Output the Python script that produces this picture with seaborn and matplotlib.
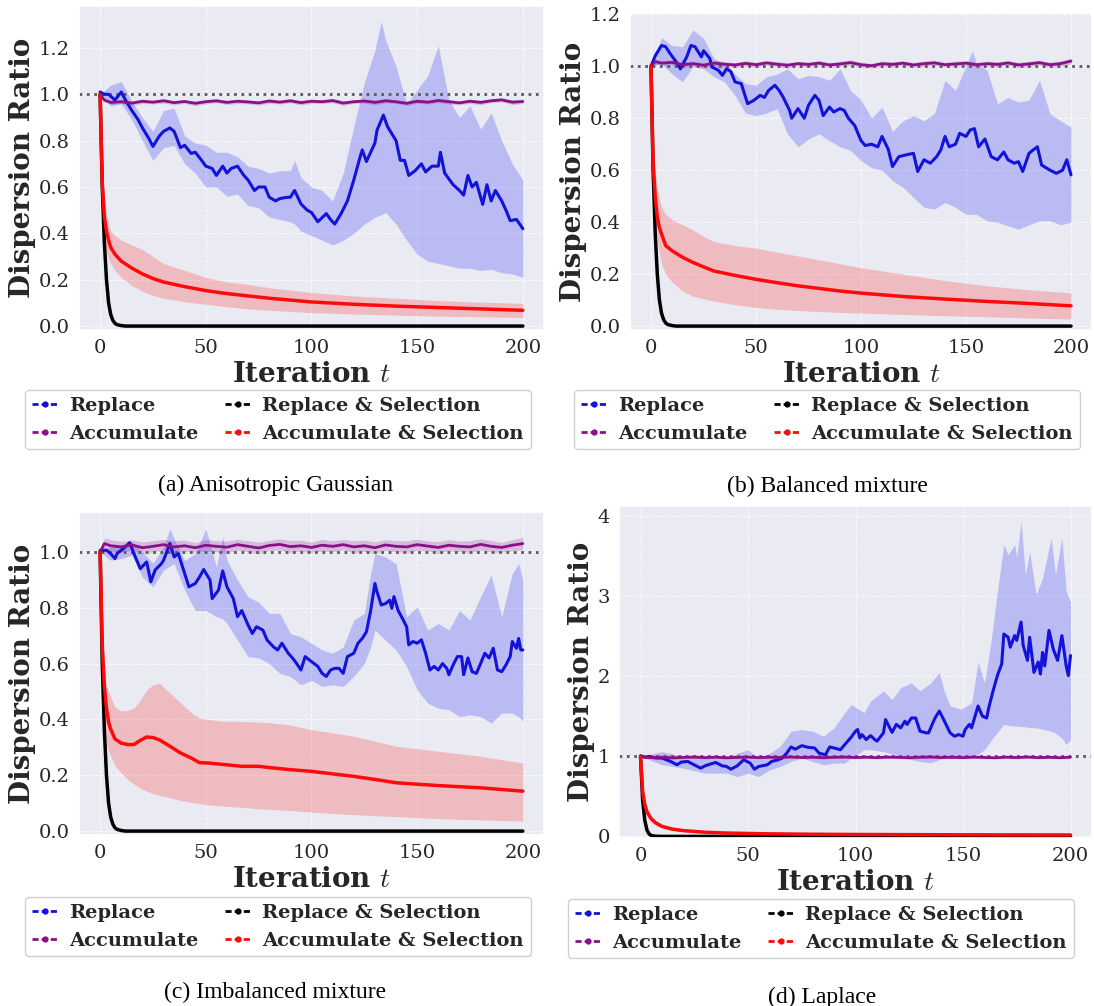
import numpy as np
import matplotlib
matplotlib.use("Agg")
import matplotlib.pyplot as plt
import seaborn as sns
from matplotlib.lines import Line2D

# ---------------- data ----------------
# common iteration grid for the "Accumulate" series
ACC_T = [0, 2, 5, 10, 15, 20, 25, 30, 35, 40, 45, 50, 55, 60, 65, 70, 75, 80, 85, 90, 95,
         100, 105, 110, 115, 120, 125, 130, 135, 140, 145, 150, 155, 160, 165, 170, 175, 180,
         185, 190, 195, 200]

# ---- (a) Anisotropic Gaussian ----
A_rep_t = [0, 2, 4, 7, 10, 12, 15, 18, 20, 23, 25, 28, 30, 33, 35, 38, 40, 43, 45, 48, 50, 53, 55,
           58, 60, 62, 65, 68, 70, 73, 75, 78, 80, 83, 85, 88, 90, 92, 95, 98, 100, 103, 107, 109,
           111, 114, 117, 120, 123, 124, 126, 130, 131, 134, 136, 138, 140, 142, 144, 146, 149,
           152, 154, 157, 160, 161, 163, 167, 170, 172, 174, 176, 178, 181, 183, 185, 187, 190,
           192, 194, 197, 200]
A_rep_v = [1.01, 1.00, 1.00, 0.975, 1.01, 0.975, 0.93, 0.89, 0.855, 0.81, 0.775, 0.82, 0.84, 0.855,
           0.84, 0.77, 0.78, 0.745, 0.75, 0.715, 0.69, 0.68, 0.65, 0.69, 0.66, 0.68, 0.69, 0.65,
           0.63, 0.585, 0.60, 0.60, 0.556, 0.54, 0.55, 0.555, 0.556, 0.585, 0.527, 0.50, 0.49, 0.45,
           0.485, 0.46, 0.44, 0.485, 0.54, 0.63, 0.73, 0.76, 0.71, 0.79, 0.845, 0.91, 0.86, 0.83,
           0.80, 0.715, 0.715, 0.65, 0.67, 0.70, 0.665, 0.69, 0.69, 0.75, 0.66, 0.61, 0.585, 0.565,
           0.65, 0.60, 0.62, 0.525, 0.61, 0.54, 0.585, 0.54, 0.50, 0.455, 0.46, 0.42]
A_band_t = [0, 5, 10, 15, 20, 25, 30, 35, 40, 45, 50, 55, 60, 65, 70, 75, 80, 85, 90, 92, 95, 100,
            105, 110, 115, 120, 125, 130, 133, 135, 140, 145, 150, 155, 160, 165, 170, 175, 180,
            185, 190, 195, 200]
A_band_hi = [1.0, 1.04, 1.055, 0.97, 0.90, 0.84, 0.93, 0.94, 0.82, 0.79, 0.78, 0.75, 0.75, 0.73,
             0.69, 0.68, 0.66, 0.67, 0.67, 0.715, 0.64, 0.60, 0.585, 0.54, 0.66, 0.86, 1.05, 1.19,
             1.315, 1.235, 1.12, 0.96, 1.02, 1.08, 1.21, 0.975, 0.90, 0.95, 0.85, 0.92, 0.80,
             0.70, 0.63]
A_band_lo = [1.0, 0.95, 0.96, 0.89, 0.80, 0.715, 0.77, 0.78, 0.70, 0.66, 0.60, 0.60, 0.56, 0.57,
             0.52, 0.51, 0.47, 0.46, 0.45, 0.44, 0.41, 0.39, 0.37, 0.35, 0.37, 0.40, 0.44, 0.47,
             0.48, 0.49, 0.44, 0.37, 0.31, 0.28, 0.27, 0.26, 0.25, 0.25, 0.24, 0.245, 0.23,
             0.225, 0.21]
A_acc_v = [1.0, 0.975, 0.965, 0.968, 0.962, 0.97, 0.966, 0.972, 0.964, 0.969, 0.961, 0.968,
           0.972, 0.965, 0.97, 0.967, 0.963, 0.971, 0.966, 0.972, 0.964, 0.97, 0.968, 0.973,
           0.962, 0.968, 0.971, 0.965, 0.972, 0.968, 0.961, 0.97, 0.966, 0.973, 0.968, 0.963,
           0.97, 0.965, 0.972, 0.976, 0.966, 0.969]
A_acc_sd = [0.0, 0.008, 0.009, 0.008, 0.01, 0.009, 0.008, 0.01, 0.009, 0.008, 0.01, 0.009,
            0.008, 0.009, 0.01, 0.008, 0.009, 0.01, 0.008, 0.009, 0.01, 0.009, 0.008, 0.009,
            0.01, 0.008, 0.009, 0.01, 0.009, 0.008, 0.01, 0.009, 0.008, 0.009, 0.01, 0.008,
            0.009, 0.01, 0.008, 0.009, 0.01, 0.009]
A_rsel_t = [0, 1, 2, 3, 4, 5, 6, 7, 8, 10, 12, 200]
A_rsel_v = [1.0, 0.6, 0.36, 0.2, 0.1, 0.05, 0.025, 0.012, 0.006, 0.002, 0.0, 0.0]
A_asel_t = [0, 1, 2, 3, 4, 5, 7, 10, 15, 20, 25, 30, 40, 50, 60, 70, 80, 90, 100, 120, 140, 160, 180, 200]
A_asel_v = [1.0, 0.62, 0.47, 0.41, 0.37, 0.34, 0.31, 0.28, 0.25, 0.225, 0.205, 0.19, 0.17, 0.153,
            0.14, 0.13, 0.12, 0.112, 0.104, 0.094, 0.086, 0.08, 0.074, 0.068]
A_asel_hi = [1.0, 0.72, 0.56, 0.48, 0.44, 0.41, 0.39, 0.37, 0.35, 0.33, 0.30, 0.27, 0.24, 0.21,
             0.19, 0.18, 0.165, 0.155, 0.145, 0.13, 0.12, 0.11, 0.103, 0.098]
A_asel_lo = [1.0, 0.50, 0.37, 0.32, 0.29, 0.27, 0.24, 0.21, 0.175, 0.15, 0.132, 0.12, 0.105, 0.094,
             0.083, 0.074, 0.068, 0.063, 0.058, 0.052, 0.047, 0.043, 0.04, 0.037]

# ---- (b) Balanced mixture ----
B_rep_t = [0, 2, 5, 7, 9, 12, 14, 17, 19, 21, 24, 25, 28, 29, 32, 34, 36, 38, 40, 43, 44, 46, 49,
           52, 54, 56, 59, 61, 63, 66, 67, 70, 73, 75, 78, 80, 82, 85, 87, 90, 92, 94, 97, 100,
           102, 105, 108, 110, 113, 115, 118, 122, 125, 127, 130, 133, 136, 138, 140, 142, 145,
           147, 150, 152, 154, 156, 159, 162, 165, 168, 170, 173, 175, 177, 180, 182, 184, 186,
           190, 193, 196, 198, 200]
B_rep_v = [1.0, 1.04, 1.08, 1.075, 1.05, 1.017, 0.99, 1.036, 1.08, 1.075, 1.036, 1.06, 1.03, 0.997,
           0.985, 0.965, 0.99, 0.98, 0.94, 0.933, 0.907, 0.856, 0.869, 0.888, 0.88, 0.907, 0.927,
           0.907, 0.88, 0.83, 0.80, 0.837, 0.80, 0.85, 0.888, 0.869, 0.81, 0.843, 0.824, 0.837,
           0.83, 0.80, 0.772, 0.714, 0.695, 0.70, 0.69, 0.73, 0.68, 0.614, 0.652, 0.66, 0.665,
           0.595, 0.64, 0.627, 0.652, 0.678, 0.73, 0.69, 0.70, 0.742, 0.73, 0.755, 0.76, 0.69,
           0.72, 0.652, 0.64, 0.67, 0.64, 0.627, 0.633, 0.595, 0.665, 0.678, 0.69, 0.62, 0.60,
           0.588, 0.60, 0.64, 0.582]
B_band_t = [0, 5, 10, 15, 20, 25, 30, 35, 40, 45, 50, 55, 60, 65, 70, 75, 80, 85, 90, 95, 100, 105,
            110, 115, 120, 125, 130, 135, 140, 145, 150, 153, 155, 160, 165, 170, 175, 180, 185,
            190, 195, 200]
B_band_hi = [1.0, 1.11, 1.08, 1.075, 1.14, 1.107, 1.03, 1.01, 0.97, 0.933, 0.927, 0.96, 0.97,
             0.99, 0.952, 0.965, 0.96, 0.946, 0.99, 0.907, 0.87, 0.80, 0.843, 0.75, 0.79, 0.81,
             0.79, 0.82, 0.946, 0.907, 1.0, 1.06, 1.01, 0.985, 0.856, 0.88, 0.862, 0.87, 0.946,
             0.817, 0.79, 0.766]
B_band_lo = [1.0, 1.01, 0.97, 0.94, 1.0, 0.99, 0.96, 0.94, 0.888, 0.82, 0.81, 0.82, 0.837, 0.74,
             0.69, 0.72, 0.74, 0.714, 0.69, 0.676, 0.637, 0.61, 0.60, 0.56, 0.534, 0.495, 0.457,
             0.45, 0.476, 0.457, 0.43, 0.43, 0.43, 0.405, 0.40, 0.386, 0.373, 0.39, 0.405, 0.405,
             0.39, 0.40]
B_acc_v = [1.0, 1.018, 1.012, 1.015, 1.006, 1.01, 1.004, 1.012, 1.008, 1.005, 1.011, 1.006,
           1.013, 1.008, 1.004, 1.01, 1.007, 1.012, 1.005, 1.009, 1.014, 1.006, 1.002, 1.01,
           1.007, 1.012, 1.005, 1.01, 1.013, 1.006, 1.009, 1.012, 1.006, 1.01, 1.007, 1.013,
           1.005, 1.009, 1.014, 1.006, 1.01, 1.02]
B_acc_sd = [0.0, 0.009, 0.01, 0.009, 0.011, 0.01, 0.009, 0.011, 0.01, 0.009, 0.011, 0.01,
            0.009, 0.01, 0.011, 0.009, 0.01, 0.011, 0.009, 0.01, 0.011, 0.01, 0.009, 0.01,
            0.011, 0.009, 0.01, 0.011, 0.01, 0.009, 0.011, 0.01, 0.009, 0.01, 0.011, 0.009,
            0.01, 0.011, 0.009, 0.01, 0.011, 0.01]
B_rsel_t = [0, 1, 2, 3, 4, 5, 6, 7, 8, 10, 12, 200]
B_rsel_v = [1.0, 0.6, 0.36, 0.2, 0.1, 0.05, 0.025, 0.012, 0.006, 0.002, 0.0, 0.0]
B_asel_t = [0, 1, 2, 3, 4, 5, 7, 10, 15, 20, 25, 30, 40, 50, 60, 70, 80, 90, 100, 120, 140, 160, 180, 200]
B_asel_v = [1.0, 0.63, 0.50, 0.42, 0.38, 0.355, 0.31, 0.29, 0.265, 0.245, 0.228, 0.212, 0.195,
            0.18, 0.167, 0.155, 0.145, 0.135, 0.127, 0.114, 0.104, 0.095, 0.087, 0.078]
B_asel_hi = [1.0, 0.72, 0.60, 0.53, 0.49, 0.46, 0.43, 0.41, 0.39, 0.37, 0.345, 0.325, 0.31, 0.30,
             0.285, 0.27, 0.255, 0.24, 0.225, 0.20, 0.175, 0.155, 0.14, 0.128]
B_asel_lo = [1.0, 0.55, 0.42, 0.33, 0.28, 0.24, 0.20, 0.17, 0.135, 0.115, 0.105, 0.096, 0.082,
             0.072, 0.065, 0.06, 0.056, 0.053, 0.05, 0.045, 0.04, 0.036, 0.031, 0.027]

# ---- (c) Imbalanced mixture ----
C_rep_t = [0, 3, 5, 7, 8, 11, 14, 16, 19, 22, 24, 26, 29, 30, 33, 35, 37, 39, 42, 45, 47, 49, 52,
           53, 56, 58, 60, 63, 65, 67, 70, 72, 74, 77, 79, 82, 84, 86, 89, 91, 93, 95, 97, 100,
           103, 105, 107, 109, 111, 113, 115, 117, 120, 122, 124, 126, 128, 130, 131, 133, 135,
           137, 138, 139, 141, 143, 145, 146, 148, 150, 152, 154, 156, 158, 160, 162, 164, 165,
           167, 169, 171, 172, 174, 176, 178, 180, 182, 184, 186, 188, 190, 192, 194, 195, 197,
           198, 199, 200]
C_rep_v = [1.006, 1.006, 0.994, 0.976, 0.994, 1.012, 1.033, 0.994, 0.94, 0.964, 0.893, 0.935,
           0.958, 0.97, 1.03, 0.982, 0.994, 0.946, 0.875, 0.887, 0.91, 0.937, 0.899, 0.833, 0.863,
           0.932, 0.875, 0.833, 0.768, 0.79, 0.738, 0.708, 0.732, 0.72, 0.684, 0.66, 0.649, 0.673,
           0.637, 0.62, 0.60, 0.577, 0.625, 0.607, 0.59, 0.565, 0.554, 0.577, 0.583, 0.583, 0.565,
           0.625, 0.637, 0.673, 0.69, 0.714, 0.79, 0.887, 0.857, 0.81, 0.815, 0.827, 0.798, 0.84,
           0.79, 0.762, 0.732, 0.667, 0.679, 0.673, 0.685, 0.637, 0.577, 0.59, 0.577, 0.60, 0.583,
           0.56, 0.595, 0.625, 0.625, 0.56, 0.62, 0.571, 0.565, 0.60, 0.637, 0.62, 0.655, 0.577,
           0.571, 0.595, 0.625, 0.679, 0.655, 0.69, 0.649, 0.649]
C_band_t = [0, 5, 10, 15, 20, 25, 30, 33, 35, 40, 45, 50, 55, 58, 60, 65, 70, 75, 80, 85, 90, 95,
            100, 105, 110, 115, 120, 125, 128, 130, 135, 140, 145, 150, 155, 160, 165, 170, 175,
            180, 185, 190, 195, 198, 200]
C_band_hi = [1.0, 1.018, 1.024, 1.036, 1.0, 0.96, 1.018, 1.083, 1.048, 0.97, 0.994, 1.083, 0.946,
             1.054, 0.97, 0.899, 0.839, 0.82, 0.78, 0.78, 0.708, 0.696, 0.673, 0.649, 0.637, 0.66,
             0.756, 0.78, 0.923, 0.994, 0.982, 0.958, 0.768, 0.804, 0.72, 0.744, 0.72, 0.79,
             0.756, 0.839, 0.917, 0.768, 0.923, 0.958, 0.899]
C_band_lo = [1.0, 0.97, 0.976, 0.988, 0.91, 0.875, 0.935, 0.95, 0.958, 0.863, 0.79, 0.79, 0.768,
             0.76, 0.744, 0.684, 0.625, 0.62, 0.60, 0.565, 0.554, 0.524, 0.54, 0.518, 0.524,
             0.518, 0.554, 0.60, 0.66, 0.72, 0.684, 0.649, 0.59, 0.506, 0.458, 0.44, 0.435, 0.41,
             0.417, 0.41, 0.387, 0.423, 0.423, 0.41, 0.393]
C_acc_v = [1.0, 1.03, 1.022, 1.018, 1.025, 1.015, 1.02, 1.026, 1.018, 1.022, 1.015, 1.024,
           1.02, 1.017, 1.026, 1.02, 1.014, 1.023, 1.027, 1.019, 1.022, 1.016, 1.024, 1.02,
           1.026, 1.018, 1.022, 1.015, 1.025, 1.02, 1.018, 1.026, 1.021, 1.016, 1.024, 1.02,
           1.018, 1.027, 1.02, 1.016, 1.024, 1.03]
C_acc_sd = [0.0, 0.02, 0.022, 0.02, 0.018, 0.021, 0.02, 0.019, 0.022, 0.02, 0.018, 0.021,
            0.02, 0.022, 0.019, 0.02, 0.021, 0.018, 0.02, 0.022, 0.02, 0.019, 0.021, 0.02,
            0.018, 0.022, 0.02, 0.021, 0.019, 0.02, 0.022, 0.02, 0.018, 0.021, 0.02, 0.019,
            0.022, 0.02, 0.021, 0.018, 0.02, 0.022]
C_rsel_t = [0, 1, 2, 3, 4, 5, 6, 7, 8, 10, 12, 200]
C_rsel_v = [1.0, 0.6, 0.36, 0.2, 0.1, 0.05, 0.025, 0.012, 0.006, 0.002, 0.0, 0.0]
C_asel_t = [0, 1, 2, 3, 4, 5, 7, 10, 13, 16, 19, 22, 25, 28, 33, 38, 43, 47, 51, 59, 67, 75, 82,
            90, 100, 110, 120, 130, 140, 150, 160, 170, 180, 190, 200]
C_asel_v = [1.0, 0.67, 0.52, 0.44, 0.39, 0.365, 0.33, 0.315, 0.31, 0.31, 0.325, 0.337, 0.335,
            0.327, 0.304, 0.28, 0.262, 0.245, 0.244, 0.238, 0.232, 0.232, 0.226, 0.22, 0.214,
            0.205, 0.196, 0.185, 0.173, 0.168, 0.163, 0.159, 0.155, 0.149, 0.143]
C_asel_hi = [1.0, 0.75, 0.58, 0.52, 0.50, 0.48, 0.445, 0.43, 0.432, 0.44, 0.47, 0.505, 0.524,
             0.53, 0.495, 0.46, 0.425, 0.405, 0.40, 0.393, 0.393, 0.39, 0.387, 0.38, 0.363,
             0.352, 0.34, 0.322, 0.304, 0.295, 0.286, 0.277, 0.268, 0.256, 0.244]
C_asel_lo = [1.0, 0.55, 0.375, 0.31, 0.285, 0.268, 0.235, 0.208, 0.185, 0.168, 0.153, 0.143,
             0.135, 0.128, 0.12, 0.11, 0.103, 0.098, 0.094, 0.089, 0.085, 0.08, 0.077, 0.074,
             0.068, 0.063, 0.059, 0.055, 0.052, 0.048, 0.045, 0.042, 0.04, 0.038, 0.036]

# ---- (d) Laplace ----
D_rep_t = [0, 2, 4, 7, 10, 12, 14, 17, 19, 22, 24, 28, 30, 33, 35, 38, 40, 42, 45, 48, 51, 53, 55,
           59, 61, 64, 66, 68, 70, 72, 75, 78, 81, 83, 86, 88, 90, 93, 95, 98, 100, 101, 102, 103,
           105, 107, 109, 110, 113, 114, 117, 119, 121, 123, 124, 126, 128, 130, 133, 134, 136,
           137, 139, 141, 144, 146, 148, 150, 151, 153, 154, 157, 159, 161, 162, 164, 166, 168,
           169, 171, 172, 174, 175, 177, 178, 180, 181, 183, 185, 186, 187, 188, 190, 192, 194,
           196, 198, 199, 200]
D_rep_v = [1.008, 0.99, 1.0, 0.98, 0.98, 0.958, 0.937, 0.895, 0.929, 0.937, 0.908, 0.853, 0.882,
           0.908, 0.924, 0.882, 0.874, 0.84, 0.882, 0.958, 0.916, 0.84, 0.874, 0.895, 0.937, 0.958,
           0.98, 1.04, 1.118, 1.09, 1.134, 1.113, 1.105, 1.042, 1.02, 1.118, 1.105, 1.084, 1.147,
           1.24, 1.315, 1.336, 1.23, 1.273, 1.21, 1.26, 1.21, 1.19, 1.294, 1.46, 1.30, 1.40,
           1.357, 1.44, 1.40, 1.48, 1.48, 1.315, 1.294, 1.294, 1.42, 1.48, 1.567, 1.46, 1.294,
           1.252, 1.273, 1.252, 1.336, 1.40, 1.357, 1.63, 1.504, 1.48, 1.61, 1.82, 2.01, 2.155,
           2.53, 2.49, 2.365, 2.51, 2.45, 2.68, 2.386, 2.20, 2.49, 2.05, 2.18, 2.03, 2.30, 2.13,
           2.575, 2.34, 2.20, 2.51, 2.13, 2.01, 2.26]
D_band_t = [0, 10, 20, 30, 40, 45, 50, 55, 60, 65, 70, 75, 80, 85, 90, 95, 98, 104, 107, 113, 117,
            121, 126, 130, 135, 139, 141, 144, 149, 154, 157, 160, 163, 166, 169, 171, 174, 175,
            177, 179, 181, 184, 187, 191, 193, 196, 198, 200]
D_band_hi = [1.0, 1.06, 1.0, 0.98, 0.98, 1.04, 1.084, 0.98, 1.04, 1.126, 1.315, 1.336, 1.315,
             1.252, 1.357, 1.546, 1.65, 1.546, 1.69, 1.82, 1.71, 1.86, 1.92, 1.82, 1.92, 2.05,
             1.84, 1.63, 1.59, 1.67, 2.18, 1.92, 2.43, 3.06, 3.65, 3.52, 3.65, 3.48, 3.94, 3.27,
             3.56, 3.02, 3.23, 3.73, 3.27, 3.73, 3.06, 2.93]
D_band_lo = [1.0, 0.895, 0.853, 0.79, 0.79, 0.748, 0.79, 0.748, 0.83, 0.874, 0.937, 0.98, 0.937,
             0.895, 0.916, 0.916, 0.98, 1.084, 1.084, 1.06, 1.03, 1.0, 0.96, 0.937, 0.92, 0.96,
             0.98, 0.97, 0.98, 1.0, 1.03, 1.084, 1.2, 1.3, 1.40, 1.39, 1.38, 1.378, 1.375, 1.37,
             1.36, 1.357, 1.34, 1.315, 1.29, 1.23, 1.147, 1.21]
D_acc_v = [1.0, 0.99, 0.985, 0.99, 0.982, 0.988, 0.992, 0.985, 0.99, 0.983, 0.988, 0.991,
           0.985, 0.99, 0.987, 0.993, 0.986, 0.99, 0.984, 0.989, 0.992, 0.986, 0.99, 0.985,
           0.991, 0.988, 0.984, 0.99, 0.993, 0.986, 0.99, 0.985, 0.991, 0.987, 0.983, 0.99,
           0.986, 0.992, 0.985, 0.989, 0.984, 0.99]
D_acc_sd = [0.0, 0.015, 0.017, 0.015, 0.018, 0.016, 0.015, 0.017, 0.016, 0.015, 0.018, 0.016,
            0.015, 0.017, 0.016, 0.018, 0.015, 0.016, 0.017, 0.015, 0.018, 0.016, 0.015, 0.017,
            0.016, 0.015, 0.018, 0.016, 0.017, 0.015, 0.016, 0.018, 0.015, 0.017, 0.016, 0.015,
            0.018, 0.016, 0.017, 0.015, 0.016, 0.017]
D_rsel_t = [0, 1, 2, 3, 4, 5, 6, 8, 10, 200]
D_rsel_v = [1.0, 0.45, 0.2, 0.08, 0.03, 0.012, 0.005, 0.001, 0.0, 0.0]
D_asel_t = [0, 1, 2, 3, 4, 5, 7, 10, 15, 20, 30, 40, 60, 80, 100, 150, 200]
D_asel_v = [1.0, 0.56, 0.40, 0.31, 0.26, 0.22, 0.17, 0.125, 0.09, 0.072, 0.052, 0.042, 0.032,
            0.027, 0.024, 0.02, 0.018]
D_asel_hi = [1.0, 0.62, 0.45, 0.35, 0.30, 0.255, 0.20, 0.15, 0.108, 0.087, 0.064, 0.052, 0.04,
             0.034, 0.03, 0.025, 0.023]
D_asel_lo = [1.0, 0.50, 0.35, 0.27, 0.22, 0.185, 0.14, 0.10, 0.072, 0.057, 0.04, 0.032, 0.024,
             0.02, 0.018, 0.015, 0.013]

SERIES_LABELS = ["Replace", "Accumulate", "Replace & Selection", "Accumulate & Selection"]
CAPTIONS = ["(a) Anisotropic Gaussian", "(b) Balanced mixture",
            "(c) Imbalanced mixture", "(d) Laplace"]

# ---------------- style ----------------
sns.set_theme(style="darkgrid", font="DejaVu Serif")
plt.rcParams["font.family"] = ["DejaVu Serif"]
plt.rcParams["mathtext.fontset"] = "cm"

C_BLUE = "#1212D8"
C_PURPLE = "#8A108A"
C_BLACK = "black"
C_RED = "#FF0A0A"

W, H = 1094, 1006
fig = plt.figure(figsize=(W / 100, H / 100), dpi=100)


def frac_rect(x0, y0, x1, y1):
    return [x0 / W, 1 - y1 / H, (x1 - x0) / W, (y1 - y0) / H]


def safe(*arrs):
    n = min(len(a) for a in arrs)
    return [np.asarray(a[:n], dtype=float) for a in arrs]


panels = [
    dict(rect=frac_rect(79, 6, 544, 330), ylim=(-0.017, 1.381),
         rep=(A_rep_t, A_rep_v), band=(A_band_t, A_band_lo, A_band_hi),
         acc=(ACC_T, A_acc_v, A_acc_sd), rsel=(A_rsel_t, A_rsel_v),
         asel=(A_asel_t, A_asel_v, A_asel_lo, A_asel_hi),
         leg=(278, 390), cap=(275, 485)),
    dict(rect=frac_rect(630, 13, 1092, 330), ylim=(-0.015, 1.205),
         rep=(B_rep_t, B_rep_v), band=(B_band_t, B_band_lo, B_band_hi),
         acc=(ACC_T, B_acc_v, B_acc_sd), rsel=(B_rsel_t, B_rsel_v),
         asel=(B_asel_t, B_asel_v, B_asel_lo, B_asel_hi),
         leg=(827, 390), cap=(827, 486)),
    dict(rect=frac_rect(79, 512, 544, 835), ylim=(-0.014, 1.143),
         rep=(C_rep_t, C_rep_v), band=(C_band_t, C_band_lo, C_band_hi),
         acc=(ACC_T, C_acc_v, C_acc_sd), rsel=(C_rsel_t, C_rsel_v),
         asel=(C_asel_t, C_asel_v, C_asel_lo, C_asel_hi),
         leg=(278, 897), cap=(275, 992)),
    dict(rect=frac_rect(619, 506, 1092, 838), ylim=(-0.02, 4.13),
         rep=(D_rep_t, D_rep_v), band=(D_band_t, D_band_lo, D_band_hi),
         acc=(ACC_T, D_acc_v, D_acc_sd), rsel=(D_rsel_t, D_rsel_v),
         asel=(D_asel_t, D_asel_v, D_asel_lo, D_asel_hi),
         leg=(821, 899), cap=(822, 997)),
]

for i, p in enumerate(panels):
    ax = fig.add_axes(p["rect"])
    ax.axhline(1.0, color="#5a5a5a", ls=":", lw=2.0, zorder=1.8)

    bt, blo, bhi = safe(*p["band"])
    ax.fill_between(bt, blo, bhi, color="blue", alpha=0.2, lw=0, zorder=1)
    at, av, asd = safe(*p["acc"])
    ax.fill_between(at, av - asd, av + asd, color="purple", alpha=0.2, lw=0, zorder=1)
    st, sv, slo, shi = safe(*p["asel"])
    ax.fill_between(st, slo, shi, color="red", alpha=0.2, lw=0, zorder=1)

    rt, rv = safe(*p["rep"])
    sns.lineplot(x=rt, y=rv, ax=ax, color=C_BLUE, lw=2.2, errorbar=None, zorder=2)
    sns.lineplot(x=at, y=av, ax=ax, color=C_PURPLE, lw=2.0, errorbar=None, zorder=2)
    kt, kv = safe(*p["rsel"])
    sns.lineplot(x=kt, y=kv, ax=ax, color=C_BLACK, lw=2.5, errorbar=None, zorder=2)
    sns.lineplot(x=st, y=sv, ax=ax, color=C_RED, lw=2.5, errorbar=None, zorder=2)

    ax.set_xlim(-10, 210)
    ax.set_ylim(*p["ylim"])
    ax.set_xticks([0, 50, 100, 150, 200])
    ax.set_xlabel(r"Iteration $t$", fontsize=20, fontweight="bold", labelpad=3)
    ax.set_ylabel("Dispersion Ratio", fontsize=20, fontweight="bold", labelpad=2)
    ax.tick_params(axis="both", which="both", length=0, labelsize=14, pad=6.5)
    ax.grid(True, color="white", ls="--", lw=0.7, alpha=0.8)

    handles = [Line2D([], [], color=c, ls=(0, (2.2, 1.1)), lw=2, marker=".", markersize=7)
               for c in (C_BLUE, C_PURPLE, C_BLACK, C_RED)]
    lx, ly = p["leg"]
    fig.legend(handles, SERIES_LABELS, loc="upper center",
               bbox_to_anchor=(lx / W, 1 - ly / H), ncol=2,
               prop={"family": "DejaVu Serif", "weight": "bold", "size": 14},
               frameon=True, facecolor="white", edgecolor="#d0d0d0", framealpha=1,
               borderaxespad=0, handlelength=1.3, handletextpad=0.6,
               columnspacing=1.4, labelspacing=0.5, borderpad=0.35)
    cx, cy = p["cap"]
    fig.text(cx / W, 1 - cy / H, CAPTIONS[i], family="Liberation Serif",
             fontsize=17, ha="center", va="center", color="black")

fig.savefig("out.png", dpi=100)
